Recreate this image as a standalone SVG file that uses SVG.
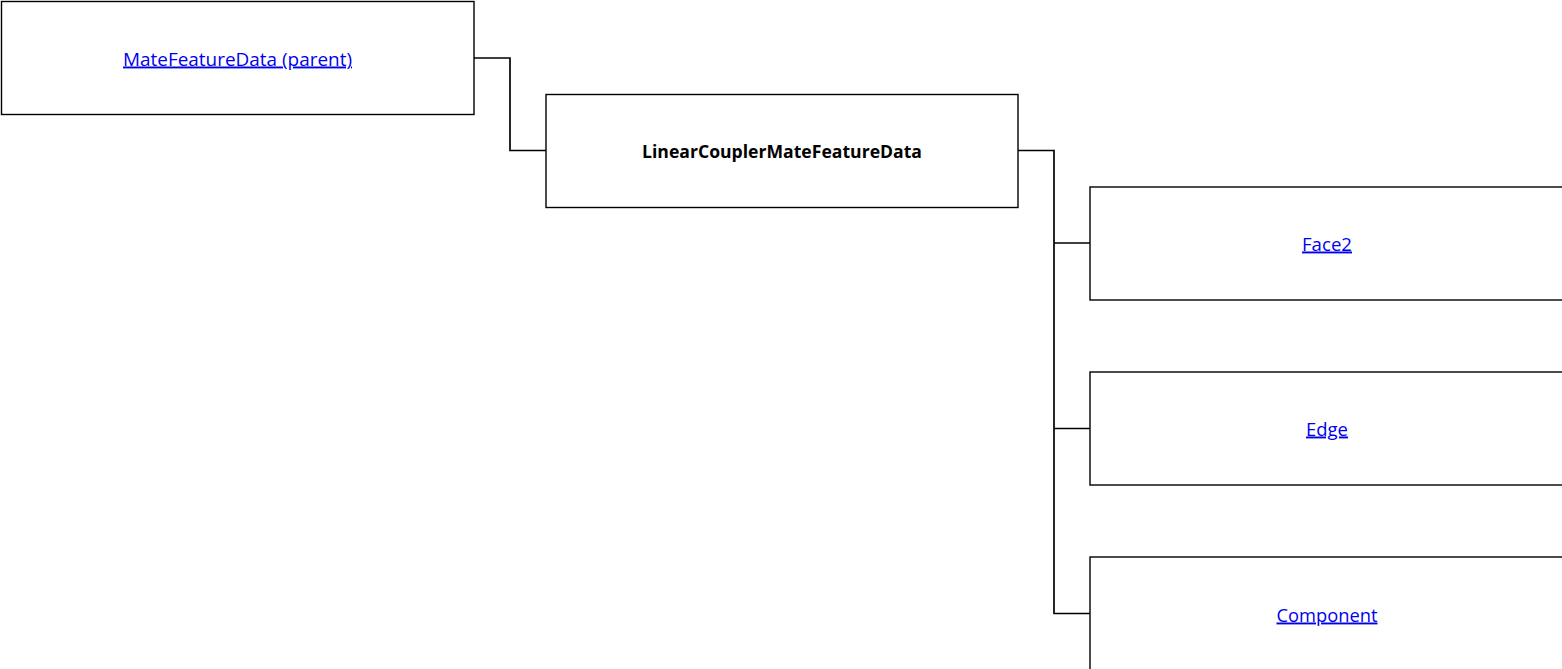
<svg xmlns="http://www.w3.org/2000/svg" width="1562" height="669" viewBox="0 0 1562 669">
<style>
.box{fill:#fff;stroke:#000;stroke-width:1.4}
.lnk{font-family:"Open Sans","Liberation Sans",sans-serif;font-size:19px;fill:#0000ee;text-decoration:underline;text-anchor:middle}
.bold{font-family:"Open Sans","Liberation Sans",sans-serif;font-size:17px;font-weight:bold;fill:#000;text-anchor:middle}
.con{fill:none;stroke:#000;stroke-width:1.7}
</style>
<rect width="1562" height="669" fill="#fff"/>
<g id="connectors">
<polyline class="con" points="474,58 510,58 510,150.5 546,150.5"/>
<polyline class="con" points="1018,150.5 1054,150.5 1054,613.5 1090,613.5"/>
<line class="con" x1="1054" y1="243" x2="1090" y2="243"/>
<line class="con" x1="1054" y1="428.5" x2="1090" y2="428.5"/>
</g>
<g id="parent">
<rect class="box" x="1.5" y="1.5" width="472.5" height="113"/>
<text class="lnk" x="237.5" y="65.5" textLength="229" lengthAdjust="spacingAndGlyphs">MateFeatureData (parent)</text>
</g>
<g id="linear">
<rect class="box" x="546" y="94.5" width="472" height="113"/>
<text class="bold" x="782" y="158" textLength="280" lengthAdjust="spacingAndGlyphs">LinearCouplerMateFeatureData</text>
</g>
<g id="face2">
<rect class="box" x="1090" y="187" width="473" height="113"/>
<text class="lnk" x="1327" y="250.5" textLength="50" lengthAdjust="spacingAndGlyphs">Face2</text>
</g>
<g id="edge">
<rect class="box" x="1090" y="372" width="473" height="113"/>
<text class="lnk" x="1327" y="435.5" textLength="42" lengthAdjust="spacingAndGlyphs">Edge</text>
</g>
<g id="component">
<rect class="box" x="1090" y="557" width="473" height="113"/>
<text class="lnk" x="1327" y="621.5" textLength="101" lengthAdjust="spacingAndGlyphs">Component</text>
</g>
</svg>
